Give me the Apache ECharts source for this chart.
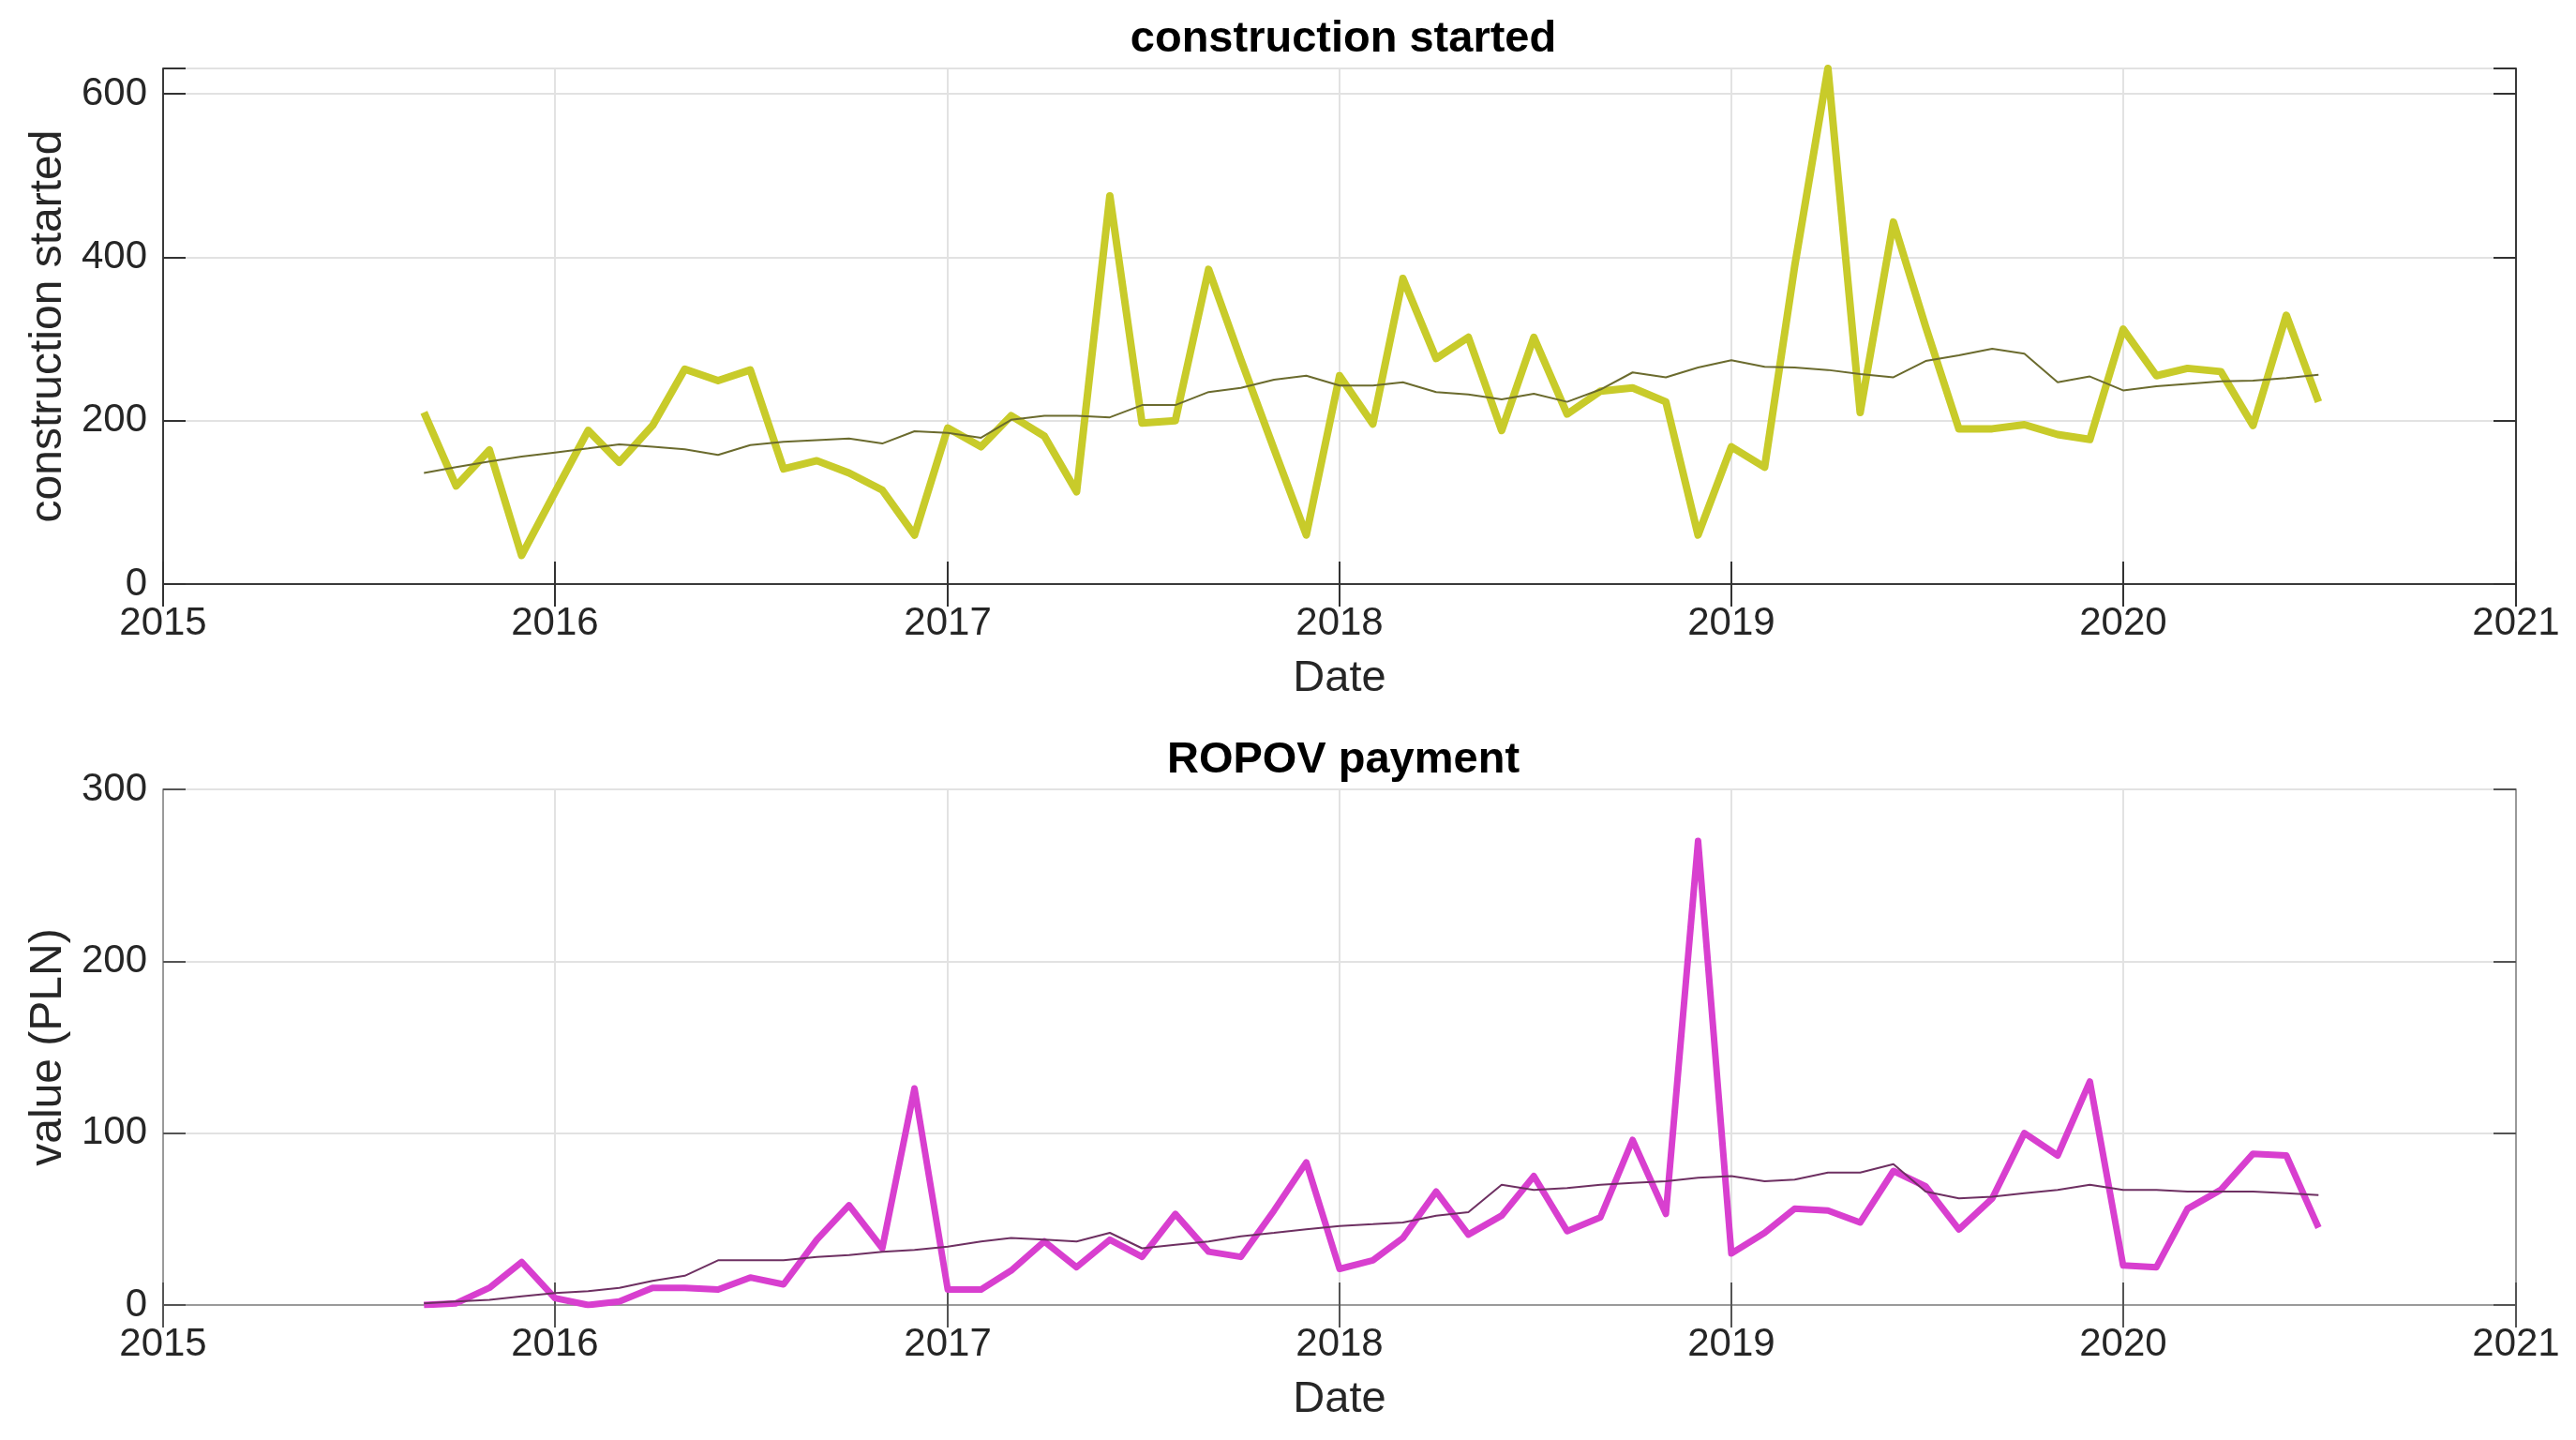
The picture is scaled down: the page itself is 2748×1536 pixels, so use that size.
<!DOCTYPE html>
<html><head><meta charset="utf-8">
<script src="https://cdn.jsdelivr.net/npm/echarts@6/dist/echarts.min.js"></script>
<style>html,body{margin:0;padding:0;background:#fff}#c{width:2748px;height:1536px}</style>
</head><body><div id="c"></div>
<script>
// ---- data (monthly, Sep 2015 – Jul 2020) ----
const dates = [
  '2015-09-01','2015-10-01','2015-11-01','2015-12-01',
  '2016-01-01','2016-02-01','2016-03-01','2016-04-01','2016-05-01','2016-06-01','2016-07-01','2016-08-01','2016-09-01','2016-10-01','2016-11-01','2016-12-01',
  '2017-01-01','2017-02-01','2017-03-01','2017-04-01','2017-05-01','2017-06-01','2017-07-01','2017-08-01','2017-09-01','2017-10-01','2017-11-01','2017-12-01',
  '2018-01-01','2018-02-01','2018-03-01','2018-04-01','2018-05-01','2018-06-01','2018-07-01','2018-08-01','2018-09-01','2018-10-01','2018-11-01','2018-12-01',
  '2019-01-01','2019-02-01','2019-03-01','2019-04-01','2019-05-01','2019-06-01','2019-07-01','2019-08-01','2019-09-01','2019-10-01','2019-11-01','2019-12-01',
  '2020-01-01','2020-02-01','2020-03-01','2020-04-01','2020-05-01','2020-06-01','2020-07-01'
];
const constructionStarted = [
  210,120,164,35,
  112,188,149,194,263,249,262,141,151,136,115,60,
  191,168,206,181,113,475,197,200,385,275,165,60,
  255,196,374,276,302,188,302,208,236,240,223,60,
  168,143,389,631,210,443,315,190,190,195,183,177,
  312,255,264,260,194,329,223
];
const constructionTrend = [
  136,143,150,156,
  161,166,171,168,165,158,170,174,176,178,172,187,
  185,179,201,206,206,204,219,219,235,240,250,255,
  243,243,247,235,232,226,233,223,238,259,253,265,
  274,266,265,262,257,253,273,280,288,282,247,254,
  237,242,245,248,249,252,256
];
const ropovPayment = [
  0,1,10,25,
  4,0,2,10,10,9,16,12,38,58,33,126,
  9,9,20,37,22,38,28,53,31,28,55,83,
  21,26,39,66,41,52,75,43,51,96,53,270,
  30,42,56,55,48,78,69,44,62,100,87,130,
  23,22,56,67,88,87,45
];
const ropovTrend = [
  1,2,3,5,
  7,8,10,14,17,26,26,26,28,29,31,32,
  34,37,39,38,37,42,33,35,37,40,42,44,
  46,47,48,52,54,70,67,68,70,71,72,74,
  75,72,73,77,77,82,66,62,63,65,67,70,
  67,67,66,66,66,65,64
];
const yearTicks = ['2015','2016','2017','2018','2019','2020','2021'];
const topYTicks = [0, 200, 400, 600];
const bottomYTicks = [0, 100, 200, 300];

// ---- chart ----
const FONT = '"Liberation Sans", Arial, Helvetica, sans-serif';
const TXT = '#262626';
const xMin = new Date(2015, 0, 1).getTime();
const xMax = new Date(2021, 0, 1).getTime();
const pairs = (vals) => dates.map((d, i) => [d, vals[i]]);

const grids = [
  {left: 174, right: 64, top: 73, height: 550, frame: '#3a3a3a', tick: '#333'},
  {left: 174, right: 64, top: 842, height: 550, frame: '#9a9a9a', tick: '#555'}
];

const xAxes = [], yAxes = [];
grids.forEach((g, gi) => {
  xAxes.push({
    type: 'time', gridIndex: gi, position: 'bottom', min: xMin, max: xMax,
    minInterval: 365 * 86400000, maxInterval: 366 * 86400000,
    name: 'Date', nameLocation: 'middle', nameGap: 78,
    nameTextStyle: {fontSize: 47, color: TXT, fontFamily: FONT},
    axisLine: {show: true, lineStyle: {color: g.frame, width: 2}},
    axisTick: {show: true, inside: true, length: 24, lineStyle: {color: g.tick, width: 2}},
    axisLabel: {
      show: true, margin: 21, fontSize: 42, color: TXT, fontFamily: FONT,
      showMinLabel: true, showMaxLabel: true, hideOverlap: false,
      formatter: (v) => { const y = String(new Date(v).getFullYear()); return yearTicks.indexOf(y) >= 0 ? y : ''; }
    },
    splitLine: {show: true, lineStyle: {color: '#e2e2e2', width: 2}}
  });
  xAxes.push({
    type: 'time', gridIndex: gi, position: 'top', min: xMin, max: xMax,
    minInterval: 365 * 86400000, maxInterval: 366 * 86400000,
    axisLine: {show: true, lineStyle: {color: g.frame, width: 2}},
    axisTick: {show: true, inside: true, length: 24, lineStyle: {color: g.tick, width: 2}},
    axisLabel: {show: false}, splitLine: {show: false}
  });
});

const yDefs = [
  {max: 631, interval: 200, ticks: topYTicks, name: 'construction started'},
  {max: 300, interval: 100, ticks: bottomYTicks, name: 'value (PLN)'}
];
grids.forEach((g, gi) => {
  const d = yDefs[gi];
  yAxes.push({
    type: 'value', gridIndex: gi, position: 'left', min: 0, max: d.max, interval: d.interval,
    name: d.name, nameLocation: 'middle', nameGap: 89, nameRotate: 90,
    nameTextStyle: {fontSize: 48, color: TXT, fontFamily: FONT},
    axisLine: {show: true, lineStyle: {color: g.frame, width: 2}},
    axisTick: {show: true, inside: true, length: 24, lineStyle: {color: g.tick, width: 2}},
    axisLabel: {
      margin: 17, fontSize: 42, color: TXT, fontFamily: FONT,
      formatter: (v) => d.ticks.indexOf(v) >= 0 ? String(v) : ''
    },
    splitLine: {show: true, lineStyle: {color: '#e2e2e2', width: 2}}
  });
  yAxes.push({
    type: 'value', gridIndex: gi, position: 'right', min: 0, max: d.max, interval: d.interval,
    axisLine: {show: true, lineStyle: {color: g.frame, width: 2}},
    axisTick: {show: true, inside: true, length: 24, lineStyle: {color: g.tick, width: 2}},
    axisLabel: {show: false}, splitLine: {show: false}
  });
});

const option = {
  backgroundColor: '#ffffff',
  animation: false,
  title: [
    {text: 'construction started', left: 1428, top: 14, textAlign: 'center',
     textStyle: {fontSize: 47, fontWeight: 'bold', color: '#000', fontFamily: FONT}},
    {text: 'ROPOV payment', left: 1428, top: 783, textAlign: 'center',
     textStyle: {fontSize: 47, fontWeight: 'bold', color: '#000', fontFamily: FONT}}
  ],
  grid: grids.map(g => ({left: g.left, right: g.right, top: g.top, height: g.height, outerBoundsMode: 'none', containLabel: false})),
  xAxis: xAxes,
  yAxis: yAxes,
  series: [
    {type: 'line', name: 'construction started', xAxisIndex: 0, yAxisIndex: 0, data: pairs(constructionStarted),
     showSymbol: false, symbol: 'none', z: 2, lineStyle: {color: '#c8cb2a', width: 8, join: 'round'}},
    {type: 'line', name: 'construction trend', xAxisIndex: 0, yAxisIndex: 0, data: pairs(constructionTrend),
     showSymbol: false, symbol: 'none', z: 3, lineStyle: {color: '#6b6b2e', width: 2}},
    {type: 'line', name: 'ROPOV payment', xAxisIndex: 2, yAxisIndex: 2, data: pairs(ropovPayment),
     showSymbol: false, symbol: 'none', z: 2, lineStyle: {color: '#d83fcf', width: 7, join: 'round'}},
    {type: 'line', name: 'ROPOV trend', xAxisIndex: 2, yAxisIndex: 2, data: pairs(ropovTrend),
     showSymbol: false, symbol: 'none', z: 3, lineStyle: {color: '#6e3062', width: 2}}
  ]
};
const chart = echarts.init(document.getElementById('c'), null, {renderer: 'canvas'});
chart.setOption(option);
</script></body></html>
